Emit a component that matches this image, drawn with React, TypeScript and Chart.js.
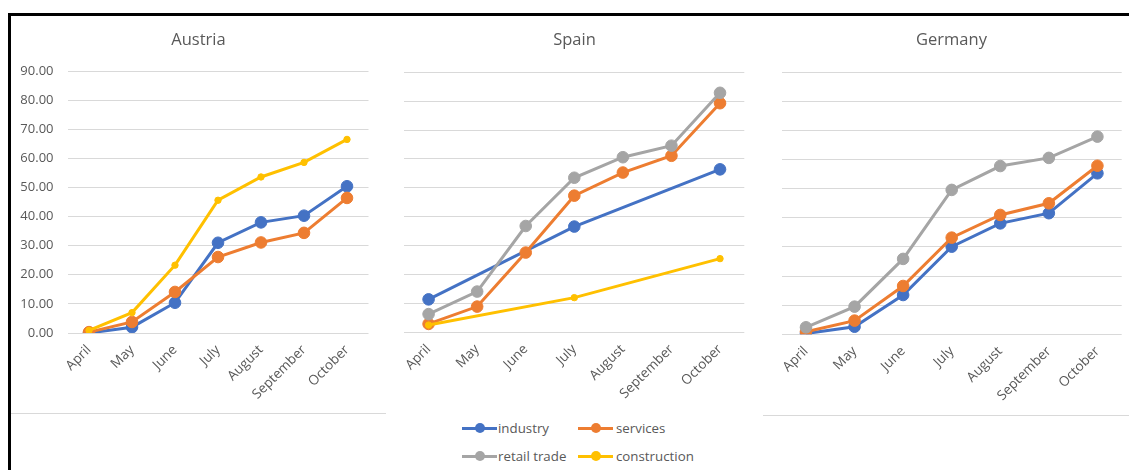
import React, { useEffect, useRef } from "react";
import { Chart, registerables } from "chart.js";

Chart.register(...registerables);

// ---------- data ----------
const months = ["April", "May", "June", "July", "August", "September", "October"];
const seriesNames = ["industry", "services", "retail trade", "construction"];
const seriesColors = ["#4472C4", "#ED7D31", "#A5A5A5", "#FFC000"];
const yMin = 0;
const yMax = 90;
const yStep = 10;

const austriaIndustry = [0.0, 2.0, 10.4, 31.0, 38.0, 40.3, 50.4];
const austriaServices = [0.3, 3.8, 14.1, 26.1, 31.1, 34.4, 46.4];
const austriaRetail: (number | null)[] = [null, null, null, null, null, null, null];
const austriaConstruction = [0.9, 7.0, 23.3, 45.6, 53.6, 58.6, 66.5];

const spainIndustry = [11.4, null, null, 36.6, null, null, 56.4];
const spainServices = [2.9, 8.9, 27.6, 47.3, 55.3, 61.1, 79.3];
const spainRetail = [6.3, 14.1, 36.8, 53.5, 60.6, 64.6, 82.9];
const spainConstruction = [2.5, null, null, 12.0, null, null, 25.5];

const germanyIndustry = [0.3, 2.6, 13.5, 30.1, 38.1, 41.6, 55.3];
const germanyServices = [0.9, 4.7, 16.6, 33.2, 41.0, 45.0, 57.9];
const germanyRetail = [2.4, 9.5, 25.9, 49.6, 57.8, 60.6, 67.9];
const germanyConstruction: (number | null)[] = [null, null, null, null, null, null, null];

// ---------- styling ----------
const TEXT = "#595959";
const GRID = "#d9d9d9";
const FONT = "'Open Sans', 'Noto Sans', sans-serif";

type PanelSpec = {
  title: string;
  series: (number | null)[][];
  showY: boolean;
  left: number;
  width: number;
  height: number;
  yWidth: number;
  padRight: number;
  titleTop: number;
  titleBottom: number;
  xHeight: number;
};

const TOP = 15;
const TITLE_SIZE = 16.5;

const panels: PanelSpec[] = [
  {
    title: "Austria",
    series: [austriaIndustry, austriaServices, austriaRetail, austriaConstruction],
    showY: true,
    left: 11,
    width: 375,
    height: 398,
    yWidth: 56.5,
    padRight: 17.5,
    titleTop: 15,
    titleBottom: 56 - 15 - TITLE_SIZE * 1.2,
    xHeight: 398 - 318,
  },
  {
    title: "Spain",
    series: [spainIndustry, spainServices, spainRetail, spainConstruction],
    showY: false,
    left: 386,
    width: 377,
    height: 398,
    yWidth: 18.3,
    padRight: 18.7,
    titleTop: 15,
    titleBottom: 57.3 - 15 - TITLE_SIZE * 1.2,
    xHeight: 398 - 317.3,
  },
  {
    title: "Germany",
    series: [germanyIndustry, germanyServices, germanyRetail, germanyConstruction],
    showY: false,
    left: 763,
    width: 377,
    height: 398,
    yWidth: 18.7,
    padRight: 18.3,
    titleTop: 15,
    titleBottom: 57.3 - 15 - TITLE_SIZE * 1.2,
    xHeight: 398 - 319.3,
  },
];

function Panel({ spec }: { spec: PanelSpec }) {
  const ref = useRef<HTMLCanvasElement>(null);
  useEffect(() => {
    if (!ref.current) return;
    const datasets = spec.series.map((vals, i) => ({
      label: seriesNames[i],
      data: vals,
      yAxisID: "y",
      borderColor: seriesColors[i],
      backgroundColor: seriesColors[i],
      pointBackgroundColor: seriesColors[i],
      pointBorderColor: seriesColors[i],
      borderWidth: 3,
      pointRadius: i === 3 ? 3.2 : 5.8,
      pointBorderWidth: 1,
      pointHoverRadius: i === 3 ? 3.2 : 5.8,
      spanGaps: true,
      tension: 0,
      fill: false,
      order: 4 - i,
    }));
    const chart = new Chart(ref.current, {
      type: "line",
      data: { labels: months, datasets },
      options: {
        responsive: false,
        animation: false,
        devicePixelRatio: window.devicePixelRatio || 1,
        layout: { padding: 0 },
        plugins: {
          legend: { display: false },
          tooltip: { enabled: false },
          title: {
            display: true,
            text: spec.title,
            color: TEXT,
            font: { family: FONT, size: TITLE_SIZE, weight: "normal" as any, lineHeight: 1.2 },
            padding: { top: spec.titleTop, bottom: spec.titleBottom },
          },
        },
        scales: {
          x: {
            type: "category",
            offset: true,
            grid: { display: false, drawTicks: false },
            border: { display: false },
            ticks: {
              color: TEXT,
              font: { family: FONT, size: 13.5 },
              minRotation: 45,
              maxRotation: 45,
              autoSkip: false,
              padding: 9,
            },
            afterFit: (s: any) => {
              s.height = spec.xHeight;
            },
          },
          y: {
            position: "left",
            min: yMin,
            max: yMax,
            ticks: {
              stepSize: yStep,
              display: spec.showY,
              color: TEXT,
              font: { family: FONT, size: 13 },
              padding: 14,
              callback: (v: any) => Number(v).toFixed(2),
            },
            grid: { color: GRID, lineWidth: 1, drawTicks: false },
            border: { display: false },
            afterFit: (s: any) => {
              s.width = spec.yWidth;
            },
          },
          // empty right-hand spacer so the plot ends where the reference's does
          yRight: {
            position: "right",
            min: yMin,
            max: yMax,
            ticks: { display: false },
            grid: { display: false, drawTicks: false },
            border: { display: false },
            afterFit: (s: any) => {
              s.width = spec.padRight;
            },
          },
        },
      },
    });
    return () => chart.destroy();
  }, [spec]);
  return (
    <canvas
      ref={ref}
      width={spec.width}
      height={spec.height}
      style={{ position: "absolute", left: spec.left, top: TOP, width: spec.width, height: spec.height }}
    />
  );
}

function LegendSymbol({ color }: { color: string }) {
  return (
    <div style={{ position: "relative", width: 35, height: 10, flex: "0 0 auto" }}>
      <div style={{ position: "absolute", left: 0, top: 3.5, width: 35, height: 3, background: color }} />
      <div
        style={{
          position: "absolute",
          left: 12.5,
          top: 0,
          width: 10,
          height: 10,
          borderRadius: "50%",
          background: color,
        }}
      />
    </div>
  );
}

function Legend() {
  return (
    <div
      style={{
        position: "absolute",
        left: 462,
        top: 418,
        display: "grid",
        gridTemplateColumns: "116px 130px",
        gridAutoRows: "28px",
        fontFamily: FONT,
        fontSize: 13.3,
        color: TEXT,
      }}
    >
      {seriesNames.map((name, i) => (
        <div key={name} style={{ display: "flex", alignItems: "center", gap: i % 2 === 0 ? 1 : 3, height: 20 }}>
          <LegendSymbol color={seriesColors[i]} />
          <span style={{ whiteSpace: "nowrap", lineHeight: "20px" }}>{name}</span>
        </div>
      ))}
    </div>
  );
}

export default function App() {
  return (
    <div
      style={{
        position: "absolute",
        left: 0,
        top: 0,
        width: 1129,
        height: 470,
        overflow: "hidden",
        background: "#fff",
      }}
    >
      {/* outer frame */}
      <div
        style={{
          position: "absolute",
          left: 8,
          top: 13,
          width: 1300,
          height: 600,
          borderTop: "3px solid #000",
          borderLeft: "3px solid #000",
        }}
      />
      {/* chart bottom borders */}
      <div style={{ position: "absolute", left: 11, top: 413, width: 375, height: 1, background: GRID }} />
      <div style={{ position: "absolute", left: 763, top: 415, width: 366, height: 1, background: GRID }} />
      {panels.map((p) => (
        <Panel key={p.title} spec={p} />
      ))}
      <Legend />
    </div>
  );
}
